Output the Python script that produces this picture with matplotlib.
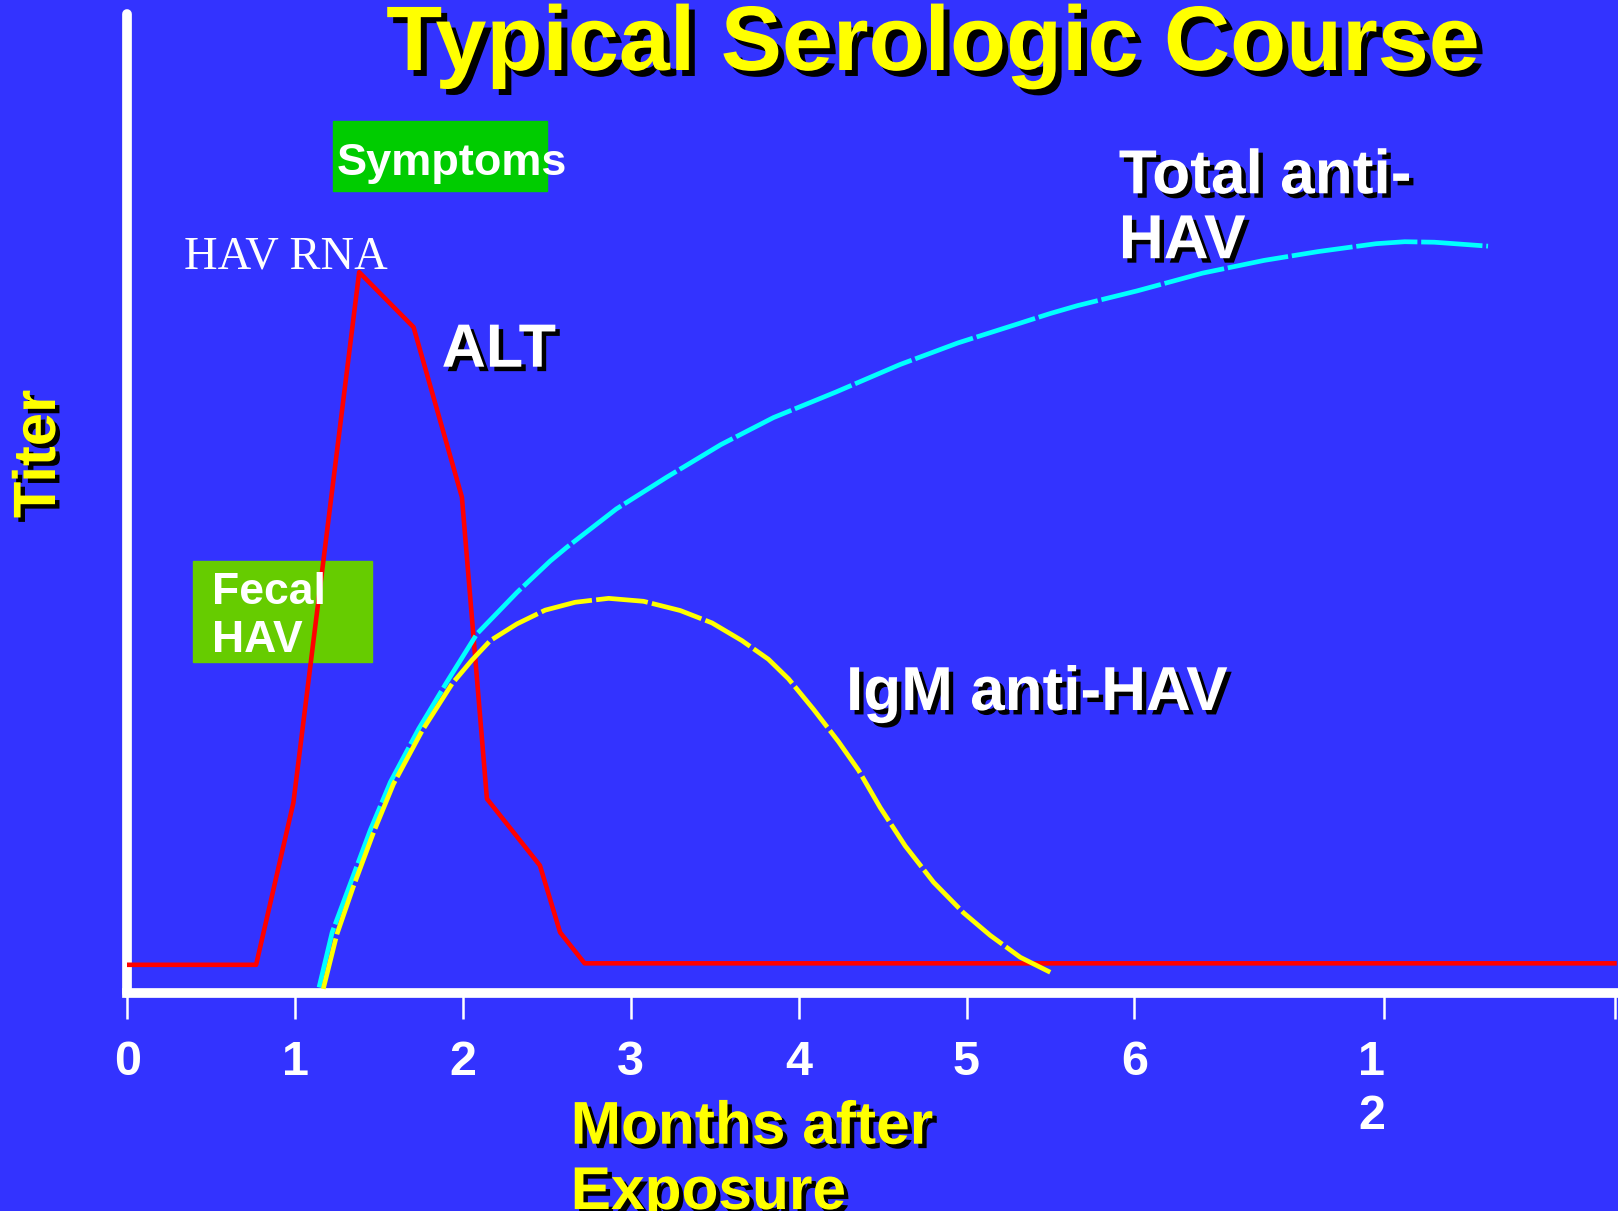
import matplotlib
matplotlib.use('Agg')
import matplotlib.pyplot as plt
import matplotlib.patheffects as pe
import matplotlib.transforms as mtransforms
from matplotlib.patches import Rectangle

# x axis is in "slots": months 0..6 evenly spaced, then 12 squeezed in after 6
tick_pos = [0, 1, 2, 3, 4, 5, 6, 7.487, 8.865]
tick_labels = ['0', '1', '2', '3', '4', '5', '6', '1\n2', '']

# ALT (red, solid)
alt_x = [0, 0.768, 0.99, 1.382, 1.706, 1.994, 2.143, 2.459, 2.579, 2.725, 8.86]
alt_y = [2.9, 2.9, 19.4, 73.4, 67.8, 50.5, 19.8, 13.0, 6.2, 3.05, 3.05]

# Total anti-HAV (cyan, dashed)
tot_x = [1.143, 1.221, 1.328, 1.448, 1.568, 1.736, 1.905, 2.084, 2.322, 2.52,
         2.619, 2.914, 3.211, 3.537, 3.85, 4.222, 4.604, 4.949, 5.299, 5.50,
         5.662, 6.017, 6.405, 6.773, 7.096, 7.44, 7.61, 7.787, 8.107]
tot_y = [0.6, 6.2, 11.1, 16.6, 21.5, 26.9, 31.7, 36.6, 40.8, 44.0,
         45.4, 49.3, 52.5, 55.85, 58.6, 61.2, 64.0, 66.2, 68.1, 69.2,
         70.0, 71.5, 73.3, 74.6, 75.5, 76.3, 76.5, 76.45, 76.05]

# IgM anti-HAV (yellow, dashed)
igm_x = [1.168, 1.249, 1.346, 1.468, 1.586, 1.756, 1.935, 2.053, 2.163, 2.322,
         2.49, 2.668, 2.868, 3.076, 3.295, 3.484, 3.662, 3.82, 3.94, 4.089,
         4.238, 4.357, 4.486, 4.635, 4.804, 4.982, 5.141, 5.32, 5.499]
igm_y = [0.45, 6.0, 10.8, 16.4, 21.3, 26.7, 31.5, 33.9, 35.9, 37.6,
         39.0, 39.8, 40.2, 39.9, 38.96, 37.7, 35.9, 34.0, 32.0, 28.9,
         25.6, 22.7, 18.9, 15.0, 11.3, 8.2, 5.9, 3.67, 2.14]

W, H = 1618, 1211
BG = '#3333FF'

plt.rcParams['font.family'] = ['Liberation Sans', 'DejaVu Sans']
plt.rcParams['font.weight'] = 'bold'

fig = plt.figure(figsize=(W / 100, H / 100), dpi=100, facecolor=BG)
ax = fig.add_axes([127.2 / W, 1 - 993.3 / H, (W - 127.2) / W, (993.3 - 13.8) / H])
ax.set_facecolor(BG)
ax.set_xlim(0, (W - 127.2) / 167.86)
ax.set_ylim(0, 99.7)

for s in ['top', 'right']:
    ax.spines[s].set_visible(False)
for s in ['left', 'bottom']:
    ax.spines[s].set_color('white')
    ax.spines[s].set_linewidth(7)
ax.spines['left'].set_capstyle('round')
ax.spines['bottom'].set_capstyle('projecting')

ax.set_xticks(tick_pos)
ax.set_xticklabels(tick_labels)
ax.tick_params(axis='x', length=18.7, width=1.8, color='white', pad=15,
               labelsize=35, labelcolor='white', direction='out')
ax.tick_params(axis='y', left=False, labelleft=False)
lab = ax.get_xticklabels()[7]
lab.set_linespacing(1.25)
lab.set_transform(lab.get_transform() +
                  mtransforms.ScaledTranslation(-12.5 / 100, 0, fig.dpi_scale_trans))

ax.plot(alt_x, alt_y, color='#FF0000', lw=3.3, zorder=3)
ax.plot(tot_x, tot_y, color='#00FFFF', lw=3.4, dashes=(13, 0.8), zorder=4)
ax.plot(igm_x, igm_y, color='#FFFF00', lw=3.4, dashes=(11, 0.9), zorder=5)

# pixel coords (from top-left) for the slide decorations
px = mtransforms.Affine2D().scale(1 / W, -1 / H).translate(0, 1) + fig.transFigure

ax.add_patch(Rectangle((332.6, 121), 214.3, 69.7, transform=px,
                       color='#00CC00', zorder=1, clip_on=False))
ax.add_patch(Rectangle((193.3, 561), 178.4, 100.7, transform=px,
                       color='#66CC00', zorder=2, clip_on=False))

shadow = [pe.SimplePatchShadow(offset=(3.2, -3.2), shadow_rgbFace='black', alpha=1),
          pe.Normal()]
big_shadow = [pe.SimplePatchShadow(offset=(4.3, -4.3), shadow_rgbFace='black', alpha=1),
              pe.Normal()]

ax.text(933, 70, 'Typical Serologic Course', transform=px, ha='center', va='baseline',
        fontsize=66, color='#FFFF00', path_effects=big_shadow, zorder=7, clip_on=False)
ax.text(39.5, 454, 'Titer', transform=px, rotation=90, ha='center', va='center',
        fontsize=43, color='#FFFF00', path_effects=shadow, zorder=7, clip_on=False)
ax.text(570.7, 1100.7, 'Months after\nExposure', transform=px, ha='left', va='top',
        fontsize=43.5, color='#FFFF00', linespacing=1.24, path_effects=shadow,
        zorder=7, clip_on=False)

ax.text(337, 175, 'Symptoms', transform=px, ha='left', va='baseline',
        fontsize=32.5, color='white', zorder=7, clip_on=False)
ax.text(211.7, 571.7, 'Fecal\nHAV', transform=px, ha='left', va='top',
        fontsize=32, color='white', linespacing=1.23, zorder=7, clip_on=False)
ax.text(184, 268.3, 'HAV RNA', transform=px, ha='left', va='baseline',
        fontsize=33.5, color='white', family=['Liberation Serif', 'DejaVu Serif'],
        fontweight='normal', zorder=7, clip_on=False)
ax.text(441.7, 366.7, 'ALT', transform=px, ha='left', va='baseline',
        fontsize=44, color='white', path_effects=shadow, zorder=7, clip_on=False)
ax.text(1118.8, 149.3, 'Total anti-\nHAV', transform=px, ha='left', va='top',
        fontsize=44.8, color='white', linespacing=1.18, path_effects=shadow,
        zorder=7, clip_on=False)
ax.text(846, 710, 'IgM anti-HAV', transform=px, ha='left', va='baseline',
        fontsize=44.7, color='white', path_effects=shadow, zorder=7, clip_on=False)

fig.savefig('out.png', dpi=100, facecolor=BG)
